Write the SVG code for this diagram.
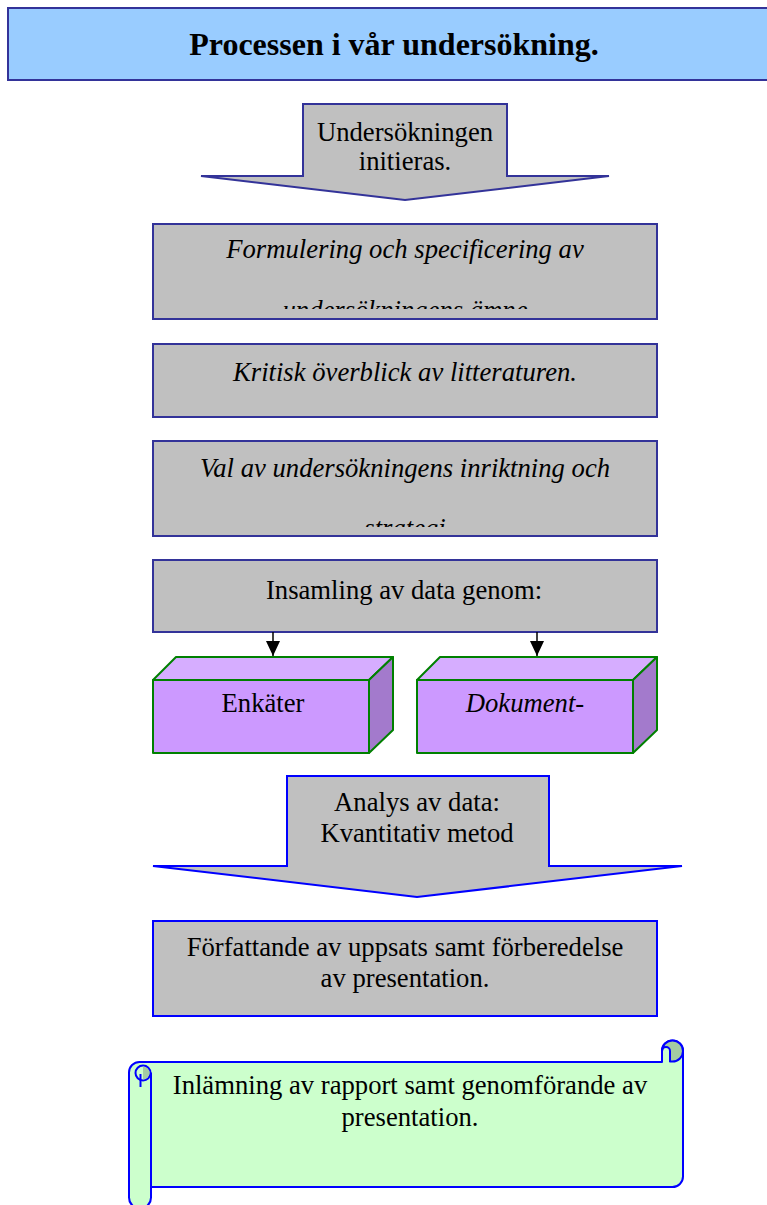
<svg xmlns="http://www.w3.org/2000/svg" width="767" height="1205" viewBox="0 0 767 1205">
<style>
  text { font-family: "Liberation Serif", "Times New Roman", serif; font-size: 26.67px; fill: #000; text-anchor: middle; }
  .it { font-style: italic; }
  .title { font-size: 32px; font-weight: bold; }
  .gbox { fill: #C0C0C0; stroke: #333399; stroke-width: 2; }
  .bbox { fill: #C0C0C0; stroke: #0000FF; stroke-width: 2; }
  .front { fill: #CC99FF; stroke: #008000; stroke-width: 2; stroke-linejoin: round; }
  .top { fill: #D6ADFF; stroke: #008000; stroke-width: 2; stroke-linejoin: round; }
  .side { fill: #A37ACC; stroke: #008000; stroke-width: 2; stroke-linejoin: round; }
  .scroll { fill: #CCFFCC; stroke: #0000FF; stroke-width: 2; stroke-linejoin: round; }
  .curl { fill: #A3CCA3; stroke: #0000FF; stroke-width: 2; stroke-linejoin: round; }
  .conn { stroke: #000; stroke-width: 1.5; fill: none; }
</style>
<defs>
  <marker id="ah" markerWidth="15" markerHeight="14" refX="15" refY="7" orient="auto" markerUnits="userSpaceOnUse" viewBox="0 0 15 14">
    <path d="M0,0 L15,7 L0,14 Z" fill="#000"/>
  </marker>
  <clipPath id="clip2"><rect x="150" y="220" width="510" height="89"/></clipPath>
  <clipPath id="clip4"><rect x="150" y="438" width="510" height="89"/></clipPath>
</defs>

<g id="title">
  <rect x="8" y="8" width="770" height="72" fill="#99CCFF" stroke="#333399" stroke-width="2"/>
  <text class="title" x="394" y="55">Processen i vår undersökning.</text>
</g>

<g id="initiate">
  <path d="M303,104 L507,104 L507,176 L609,176 L405,200 L201,176 L303,176 Z" fill="#C0C0C0" stroke="#333399" stroke-width="2" stroke-linejoin="miter"/>
  <text x="405" y="141">Undersökningen</text>
  <text x="405" y="170">initieras.</text>
</g>

<g id="formulering">
  <rect class="gbox" x="153" y="224" width="504" height="95"/>
  <g clip-path="url(#clip2)">
    <text class="it" x="405" y="258">Formulering och specificering av</text>
    <text class="it" x="405" y="319">undersökningens ämne</text>
  </g>
</g>

<g id="kritisk">
  <rect class="gbox" x="153" y="344" width="504" height="73"/>
  <text class="it" x="405" y="381">Kritisk överblick av litteraturen.</text>
</g>

<g id="val">
  <rect class="gbox" x="153" y="441" width="504" height="95"/>
  <g clip-path="url(#clip4)">
    <text class="it" x="405" y="477">Val av undersökningens inriktning och</text>
    <text class="it" x="405" y="537">strategi</text>
  </g>
</g>

<g id="insamling">
  <rect class="gbox" x="153" y="560" width="504" height="72"/>
  <text x="404" y="599">Insamling av data genom:</text>
</g>

<g id="enkater">
  <path class="top" d="M153,680 L176,657 L393,657 L369,680 Z"/>
  <path class="side" d="M369,680 L393,657 L393,730 L369,753 Z"/>
  <rect class="front" x="153" y="680" width="216" height="73"/>
  <text x="263" y="712">Enkäter</text>
</g>

<g id="dokument">
  <path class="top" d="M417,680 L440,657 L657,657 L633,680 Z"/>
  <path class="side" d="M633,680 L657,657 L657,730 L633,753 Z"/>
  <rect class="front" x="417" y="680" width="216" height="73"/>
  <text x="525" y="712"><tspan class="it">Dokument</tspan>-</text>
</g>

<g id="analys">
  <path d="M287,776 L549,776 L549,866 L682,866 L417,897 L153,866 L287,866 Z" fill="#C0C0C0" stroke="#0000FF" stroke-width="2"/>
  <text x="417" y="811">Analys av data:</text>
  <text x="417" y="842">Kvantitativ metod</text>
</g>

<g id="forfattande">
  <rect class="bbox" x="153" y="921" width="504" height="95"/>
  <text x="405" y="956">Författande av uppsats samt förberedelse</text>
  <text x="405" y="987">av presentation.</text>
</g>

<g id="inlamning">
  <path class="scroll" d="M139.5,1062 L662,1062 L662,1051 A10.5,10.5 0 0 1 683,1051 L683,1176.5 A10.5,10.5 0 0 1 672.5,1187 L151,1187 L151,1197.5 A11,11 0 0 1 129,1197.5 L129,1072.5 A10.5,10.5 0 0 1 139.5,1062 Z"/>
  <path class="curl" d="M662,1051 A10.5,10.5 0 0 1 683,1051 A10.5,10.5 0 0 1 672.5,1061.5 L670,1061.5 L670,1051 A4,4 0 0 0 662,1051 Z"/>
  <path class="scroll" fill="none" d="M662,1051 L662,1062 M670,1051 L670,1062"/>
  <circle cx="143" cy="1073" r="7.5" fill="none" stroke="#0000FF" stroke-width="2"/>
  <path d="M143,1066.5 A6.5,6.5 0 0 1 143,1079.5 Z" fill="#A3CCA3"/>
  <path d="M151,1072.5 L151,1187" fill="none" stroke="#0000FF" stroke-width="2"/>
  <path d="M140.5,1074 L140.5,1087" fill="none" stroke="#0000FF" stroke-width="2"/>
  <text x="410" y="1094">Inlämning av rapport samt genomförande av</text>
  <text x="410" y="1126">presentation.</text>
</g>

<g id="connectors">
  <line class="conn" x1="273" y1="632" x2="273" y2="656" marker-end="url(#ah)"/>
  <line class="conn" x1="537" y1="632" x2="537" y2="656" marker-end="url(#ah)"/>
</g>
</svg>
